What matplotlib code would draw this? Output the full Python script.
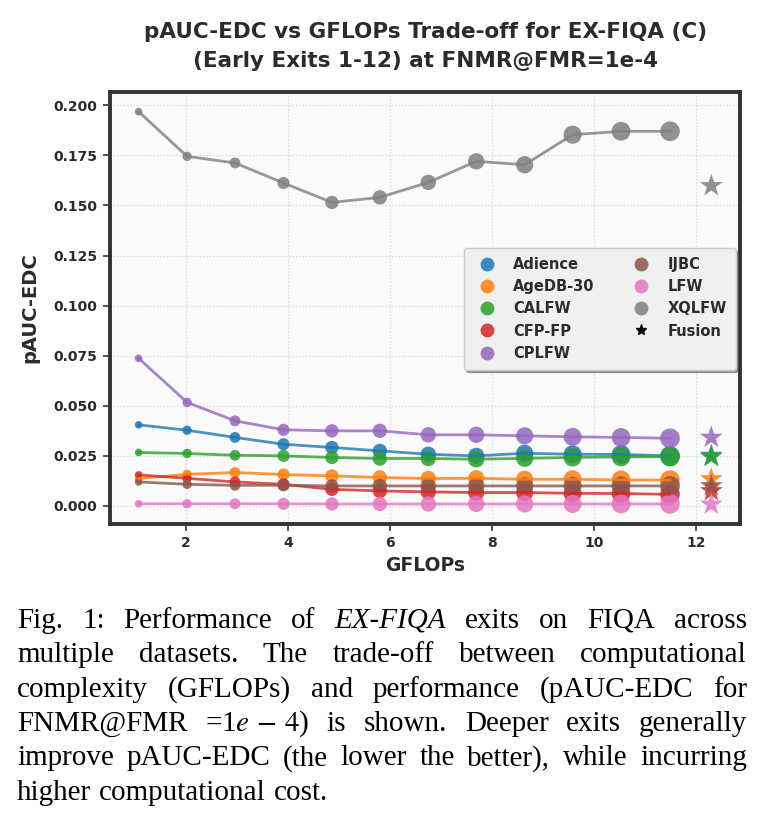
import matplotlib
matplotlib.use("Agg")
import matplotlib.pyplot as plt
from matplotlib.lines import Line2D
import numpy as np

# data
datasets = ["Adience", "AgeDB-30", "CALFW", "CFP-FP", "CPLFW", "IJBC", "LFW", "XQLFW"]
colors = ["#1f77b4", "#ff7f0e", "#2ca02c", "#d62728", "#9467bd", "#8c564b", "#e377c2", "#7f7f7f"]
gflops = [1.07, 2.02, 2.96, 3.91, 4.86, 5.80, 6.75, 7.69, 8.64, 9.58, 10.53, 11.49]
fusion_gflops = 12.30

adience = [0.0405, 0.0378, 0.0342, 0.0308, 0.0292, 0.0275, 0.0258, 0.0250, 0.0263, 0.0258, 0.0257, 0.0250]
agedb30 = [0.0137, 0.0158, 0.0167, 0.0157, 0.0150, 0.0142, 0.0137, 0.0138, 0.0133, 0.0133, 0.0130, 0.0129]
calfw = [0.0267, 0.0262, 0.0253, 0.0250, 0.0242, 0.0237, 0.0237, 0.0233, 0.0238, 0.0242, 0.0245, 0.0246]
cfpfp = [0.0155, 0.0138, 0.0120, 0.0108, 0.0083, 0.0075, 0.0070, 0.0067, 0.0067, 0.0063, 0.0062, 0.0058]
cplfw = [0.0737, 0.0517, 0.0425, 0.0380, 0.0375, 0.0375, 0.0355, 0.0355, 0.0350, 0.0345, 0.0342, 0.0338]
ijbc = [0.0120, 0.0108, 0.0103, 0.0103, 0.0100, 0.0100, 0.0100, 0.0100, 0.0100, 0.0100, 0.0100, 0.0100]
lfw = [0.0011, 0.0011, 0.0011, 0.0011, 0.0010, 0.0010, 0.0010, 0.0010, 0.0010, 0.0010, 0.0010, 0.0010]
xqlfw = [0.1968, 0.1745, 0.1712, 0.1612, 0.1515, 0.1540, 0.1615, 0.1720, 0.1703, 0.1853, 0.1870, 0.1870]
fusion = [0.0252, 0.0135, 0.0245, 0.0075, 0.0342, 0.0100, 0.0008, 0.1598]

series = [adience, agedb30, calfw, cfpfp, cplfw, ijbc, lfw, xqlfw]

TXT = "#2b2b2b"
SANS = ["DejaVu Sans"]

fig = plt.figure(figsize=(7.66, 8.32), dpi=100)
ax = fig.add_axes([0.1436, 0.3702, 0.8224, 0.5192])
ax.set_facecolor("#fafafa")

sizes = np.linspace(30, 200, len(gflops))
for name, vals, c, fv in zip(datasets, series, colors, fusion):
    ax.scatter(gflops, vals, s=sizes, color=c, alpha=0.85, edgecolors="none", zorder=2)
    ax.plot(gflops, vals, color=c, lw=2, alpha=0.8, zorder=3)
    ax.scatter([fusion_gflops], [fv], s=300, marker="*", color=c, alpha=0.85,
               edgecolors="none", zorder=4)

ax.grid(True, ls=":", color="#d8d8d8", lw=0.9, zorder=0)
ax.set_axisbelow(True)
for sp in ax.spines.values():
    sp.set_linewidth(2.8)
    sp.set_color("#333333")

ax.set_xticks([2, 4, 6, 8, 10, 12])
ax.set_yticks([0.0, 0.025, 0.05, 0.075, 0.1, 0.125, 0.15, 0.175, 0.2])
ax.yaxis.set_major_formatter(matplotlib.ticker.FormatStrFormatter("%.3f"))
ax.tick_params(length=5, width=1.2, color="#333333", labelsize=10, labelcolor=TXT, pad=4)
for lab in ax.get_xticklabels() + ax.get_yticklabels():
    lab.set_family(SANS)
    lab.set_fontweight("bold")

ax.set_xlabel("GFLOPs", fontsize=13.5, fontweight="bold", color=TXT, family=SANS, labelpad=4)
ax.set_ylabel("pAUC-EDC", fontsize=14, fontweight="bold", color=TXT, family=SANS, labelpad=10)

fig.text(0.556, 1 - 38 / 832, "pAUC-EDC vs GFLOPs Trade-off for EX-FIQA (C)", ha="center",
         va="baseline", fontsize=15.5, fontweight="bold", color=TXT, family=SANS)
fig.text(0.556, 1 - 67 / 832, "(Early Exits 1-12) at FNMR@FMR=1e-4", ha="center",
         va="baseline", fontsize=15.5, fontweight="bold", color=TXT, family=SANS)

handles = [Line2D([], [], marker="o", ls="", color=c, alpha=0.85, markersize=10, mec="none")
           for c in colors]
handles.append(Line2D([], [], marker="*", ls="", color="black", markersize=8))
labels = datasets + ["Fusion"]
leg = ax.legend(handles, labels, ncol=2, loc="upper right", bbox_to_anchor=(0.993, 0.639),
                borderaxespad=0, frameon=True, shadow=True, facecolor="#f0f0f0",
                edgecolor="#cccccc", prop={"family": SANS, "weight": "bold", "size": 10.5},
                labelspacing=0.5, handletextpad=0.8, columnspacing=2.2, borderpad=0.6)
for t in leg.get_texts():
    t.set_color(TXT)

# caption, justified line by line
cap_lines = [
    [("Fig.", "normal"), ("1:", "normal"), ("Performance", "normal"), ("of", "normal"),
     ("EX-FIQA", "italic"), ("exits", "normal"), ("on", "normal"), ("FIQA", "normal"), ("across", "normal")],
    [("multiple", "normal"), ("datasets.", "normal"), ("The", "normal"), ("trade-off", "normal"),
     ("between", "normal"), ("computational", "normal")],
    [("complexity", "normal"), ("(GFLOPs)", "normal"), ("and", "normal"), ("performance", "normal"),
     ("(pAUC-EDC", "normal"), ("for", "normal")],
    [("FNMR@FMR", "normal"), ("=1$e\\,-\\,4$)", "normal"), ("is", "normal"), ("shown.", "normal"),
     ("Deeper", "normal"), ("exits", "normal"), ("generally", "normal")],
    [("improve", "normal"), ("pAUC-EDC", "normal"), ("(the", "normal"), ("lower", "normal"),
     ("the", "normal"), ("better),", "normal"), ("while", "normal"), ("incurring", "normal")],
    [("higher", "normal"), ("computational", "normal"), ("cost.", "normal")],
]
plt.rcParams["mathtext.fontset"] = "stix"
W, H = 766, 832
left, right = 17, 747
baselines = [628, 662.3, 696.6, 730.9, 765.2, 799.5]
renderer = fig.canvas.get_renderer()
for i, (words, yb) in enumerate(zip(cap_lines, baselines)):
    texts = [fig.text(0, 1 - yb / H, w, fontsize=21, style=st, family="Liberation Serif",
                      color="black", va="baseline") for w, st in words]
    widths = [t.get_window_extent(renderer).width for t in texts]
    if i < len(cap_lines) - 1:
        gap = (right - left - sum(widths)) / (len(words) - 1)
    else:
        gap = 8
    x = left
    for t, w in zip(texts, widths):
        t.set_x(x / W)
        x += w + gap

fig.savefig("out.png", dpi=100)
